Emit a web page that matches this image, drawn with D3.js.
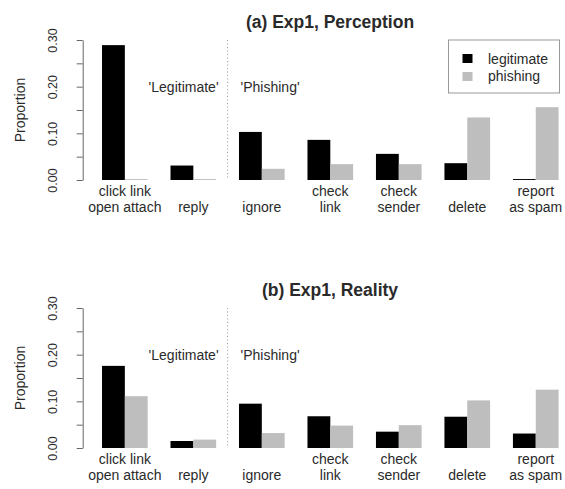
<!DOCTYPE html>
<html>
<head>
<meta charset="utf-8">
<script src="https://cdn.jsdelivr.net/npm/d3@7"></script>
<style>
  body { margin: 0; background: #fff; }
  text { font-family: "Liberation Sans", Arial, Helvetica, sans-serif; fill: #2a2a2a; }
</style>
</head>
<body>
<div id="graph"></div>
<script>
//two barplots, perception vs reality
let w = 565;
let h = 489;

//data
let categories = ["click link\nopen attach", "\nreply", "\nignore", "check\nlink", "check\nsender", "\ndelete", "report\nas spam"];
let series = ["legitimate", "phishing"];
let perceptionLegit = [0.289, 0.031, 0.103, 0.086, 0.056, 0.036, 0.002];
let perceptionPhish = [0.002, 0.002, 0.024, 0.034, 0.034, 0.134, 0.156];
let realityLegit = [0.176, 0.015, 0.095, 0.068, 0.035, 0.067, 0.031];
let realityPhish = [0.111, 0.018, 0.032, 0.048, 0.049, 0.102, 0.125];
let yTicks = [0, 0.05, 0.10, 0.15, 0.20, 0.25, 0.30];
let titles = ["(a) Exp1, Perception", "(b) Exp1, Reality"];

let panels = [
  {title: titles[0], legit: perceptionLegit, phish: perceptionPhish, top: 0, legend: true},
  {title: titles[1], legit: realityLegit, phish: realityPhish, top: 268, legend: false}
];

let svg = d3.select("#graph")
              .append("svg")
                .attr("width", w)
                .attr("height", h)
;

let color = d3.scaleOrdinal()
                  .domain(series)
                  .range(["#000000", "#bebebe"])
;

// group positions (R style barplot: 2 bars + 1 gap per group)
let x = d3.scaleBand()
              .domain(d3.range(categories.length))
              .range([90.6, 570])
              .paddingInner(1 / 3)
              .paddingOuter(1 / 6)
;

let xInner = d3.scaleBand()
                  .domain(series)
                  .range([0, x.bandwidth()])
;

let y = d3.scaleLinear()
              .domain([0, 0.3])
              .range([180, 40])
;

let axisX = 82.7;

function drawPanel(p) {
  let g = svg.append("g")
                .attr("transform", "translate(0," + p.top + ")");

  // title
  g.append("text")
      .attr("x", 330)
      .attr("y", 28)
      .attr("text-anchor", "middle")
      .attr("font-size", 17.5)
      .attr("font-weight", "bold")
      .text(p.title);

  // y axis
  let axis = d3.axisLeft(y)
                  .tickValues(yTicks)
                  .tickSize(6)
                  .tickSizeOuter(0)
                  .tickFormat(d => (Math.round(d * 100) % 10 == 0) ? d3.format(".2f")(d) : "");

  let ag = g.append("g")
              .attr("transform", "translate(" + axisX + ",0)")
              .call(axis);

  ag.select(".domain").attr("stroke", "#666");
  ag.selectAll(".tick line").attr("stroke", "#666");
  ag.selectAll(".tick text")
      .attr("transform", "rotate(-90)")
      .attr("x", 0)
      .attr("y", -29.7)
      .attr("dy", "0.35em")
      .attr("text-anchor", "middle")
      .attr("font-size", 12.5)
      .attr("fill", "#2a2a2a")
      .attr("font-family", null);

  g.append("text")
      .attr("transform", "translate(20," + y(0.15) + ") rotate(-90)")
      .attr("text-anchor", "middle")
      .attr("dy", "0.35em")
      .attr("font-size", 14)
      .text("Proportion");

  // bars
  let rows = categories.map(function(c, i) {
    return {i: i, values: [{key: "legitimate", value: p.legit[i]}, {key: "phishing", value: p.phish[i]}]};
  });

  let groups = g.selectAll("barGroups").data(rows).enter()
                  .append("g")
                    .attr("transform", d => "translate(" + x(d.i) + ",0)");

  groups.selectAll("rect").data(d => d.values).enter()
          .append("rect")
            .attr("x", d => xInner(d.key))
            .attr("y", d => y(d.value))
            .attr("width", xInner.bandwidth())
            .attr("height", d => Math.max(0.8, y(0) - y(d.value)))
            .attr("fill", d => color(d.key))
  ;

  // category labels
  groups.each(function(d) {
    let lines = categories[d.i].split("\n");
    let t = d3.select(this).append("text")
                .attr("text-anchor", "middle")
                .attr("font-size", 14);
    lines.forEach(function(l, k) {
      t.append("tspan")
          .attr("x", x.bandwidth() / 2)
          .attr("y", y(0) + (k == 0 ? 15.5 : 32))
          .text(l);
    });
  });

  // divider between legitimate and phishing actions
  let divX = (x(1) + x.bandwidth() + x(2)) / 2;
  g.append("line")
      .attr("x1", divX)
      .attr("x2", divX)
      .attr("y1", y(0.3))
      .attr("y2", y(0))
      .attr("stroke", "#999")
      .attr("stroke-dasharray", "1,2.5");

  g.append("text")
      .attr("x", divX - 9)
      .attr("y", y(0.2))
      .attr("dy", "0.35em")
      .attr("text-anchor", "end")
      .attr("font-size", 14)
      .text("'Legitimate'");

  g.append("text")
      .attr("x", divX + 13)
      .attr("y", y(0.2))
      .attr("dy", "0.35em")
      .attr("font-size", 14)
      .text("'Phishing'");

  if (p.legend) {
    let lg = g.append("g").attr("transform", "translate(448.5,40)");
    lg.append("rect")
        .attr("width", 111)
        .attr("height", 53)
        .attr("fill", "none")
        .attr("stroke", "#999");
    lg.selectAll("legendKeys").data(series).enter()
        .append("rect")
          .attr("x", 14)
          .attr("y", (d, i) => 14 + i * 18)
          .attr("width", 10)
          .attr("height", 9)
          .attr("fill", d => color(d));
    lg.selectAll("legendText").data(series).enter()
        .append("text")
          .attr("x", 39.5)
          .attr("y", (d, i) => 19 + i * 17.5)
          .attr("dy", "0.35em")
          .attr("font-size", 14)
          .text(d => d);
  }
}

panels.forEach(drawPanel);
</script>
</body>
</html>
